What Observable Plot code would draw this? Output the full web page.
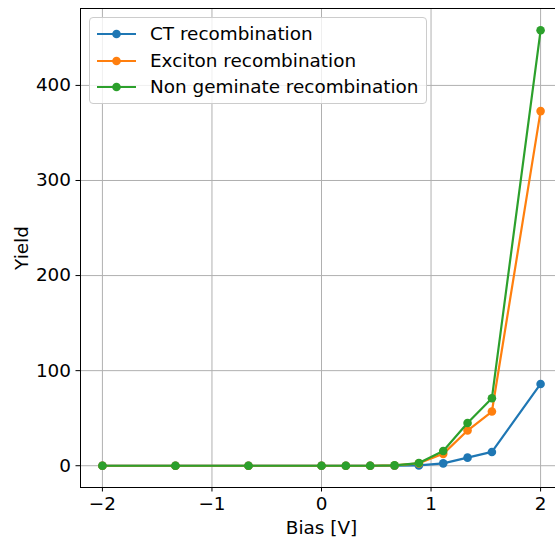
<!DOCTYPE html>
<html>
<head>
<meta charset="utf-8">
<script src="https://cdn.jsdelivr.net/npm/d3@7"></script>
<script src="https://cdn.jsdelivr.net/npm/@observablehq/plot@0.6"></script>
<style>
  html, body { margin: 0; padding: 0; background: #fff; overflow: hidden; }
  #chart { position: relative; width: 555px; height: 541px; overflow: hidden; font-family: "DejaVu Sans", sans-serif; }
  #chart > svg { position: absolute; left: 0; top: 0; max-width: none !important; width: 563px; height: 541px; }
  .legend {
    position: absolute; left: 89px; top: 17px; width: 336px; height: 85px;
    border: 1px solid #cccccc; border-radius: 4px; background: rgba(255,255,255,0.8);
    box-sizing: content-box;
  }
  .legend .row { position: absolute; left: 0; height: 26px; }
  .legend .row span { font-size: 18.4px; color: #000; position: absolute; left: 60px; white-space: nowrap; line-height: 26px; }
</style>
</head>
<body>
<div id="chart"></div>
<script>
// Bias sweep (V) and yields of the three recombination channels
const bias = [-2, -1.3333, -0.6667, 0, 0.2222, 0.4444, 0.6667, 0.8889, 1.1111, 1.3333, 1.5556, 2];
const ctRecombination = [0, 0, 0, 0, 0, 0, 0, 0.3, 2.5, 8.5, 14.5, 86];
const excitonRecombination = [0, 0, 0, 0, 0, 0, 0.3, 2.5, 12.5, 37, 57, 373];
const nonGeminateRecombination = [0, 0, 0, 0, 0, 0, 0.4, 2.8, 15.5, 45, 71, 458];

const seriesNames = ["CT recombination", "Exciton recombination", "Non geminate recombination"];
const seriesValues = [ctRecombination, excitonRecombination, nonGeminateRecombination];
const seriesColors = ["#1f77b4", "#ff7f0e", "#2ca02c"];

const xTicks = [-2, -1, 0, 1, 2];
const yTicks = [0, 100, 200, 300, 400];

const rows = seriesNames.map((name, i) => bias.map((b, j) => ({series: name, bias: b, value: seriesValues[i][j]})));

const fmt = d3.format("d");

const seriesMarks = rows.flatMap((data, i) => [
  Plot.line(data, {x: "bias", y: "value", stroke: seriesColors[i], strokeWidth: 2.2}),
  Plot.dot(data, {x: "bias", y: "value", fill: seriesColors[i], r: 4.3})
]);

const chart = Plot.plot({
  width: 563,
  height: 541,
  marginLeft: 80,
  marginRight: 1,
  marginTop: 8,
  marginBottom: 54,
  style: {fontFamily: "DejaVu Sans, sans-serif", fontSize: "18.4px", color: "#000", background: "transparent"},
  x: {domain: [-2.2, 2.2]},
  y: {domain: [-22.9, 480.9]},
  marks: [
    Plot.gridX(xTicks, {stroke: "#b0b0b0", strokeOpacity: 1, strokeWidth: 1}),
    Plot.gridY(yTicks, {stroke: "#b0b0b0", strokeOpacity: 1, strokeWidth: 1}),
    ...seriesMarks,
    Plot.frame({stroke: "#000", strokeWidth: 1}),
    Plot.axisX(xTicks, {tickSize: 4.5, tickPadding: 5, tickFormat: fmt, fontSize: 18.4,
      label: "Bias [V]", labelAnchor: "center", labelArrow: "none", labelOffset: 46}),
    Plot.axisY(yTicks, {tickSize: 4.5, tickPadding: 5, tickFormat: fmt, fontSize: 18.4,
      label: "Yield", labelAnchor: "center", labelArrow: "none", labelOffset: 66})
  ]
});

const root = document.getElementById("chart");
root.appendChild(chart);

// Legend box drawn over the upper-left of the frame
const legend = document.createElement("div");
legend.className = "legend";
seriesNames.forEach((name, i) => {
  const row = document.createElement("div");
  row.className = "row";
  row.style.top = (3 + i * 26.7) + "px";
  row.style.width = "336px";
  const ns = "http://www.w3.org/2000/svg";
  const svg = document.createElementNS(ns, "svg");
  svg.setAttribute("width", "50");
  svg.setAttribute("height", "26");
  svg.style.position = "absolute";
  svg.style.left = "0px";
  svg.style.top = "0px";
  const line = document.createElementNS(ns, "line");
  line.setAttribute("x1", "7"); line.setAttribute("x2", "46");
  line.setAttribute("y1", "13"); line.setAttribute("y2", "13");
  line.setAttribute("stroke", seriesColors[i]); line.setAttribute("stroke-width", "2.2");
  const dot = document.createElementNS(ns, "circle");
  dot.setAttribute("cx", "26.5"); dot.setAttribute("cy", "13"); dot.setAttribute("r", "4.3");
  dot.setAttribute("fill", seriesColors[i]);
  svg.appendChild(line); svg.appendChild(dot);
  const label = document.createElement("span");
  label.textContent = name;
  row.appendChild(svg); row.appendChild(label);
  legend.appendChild(row);
});
root.appendChild(legend);
</script>
</body>
</html>
